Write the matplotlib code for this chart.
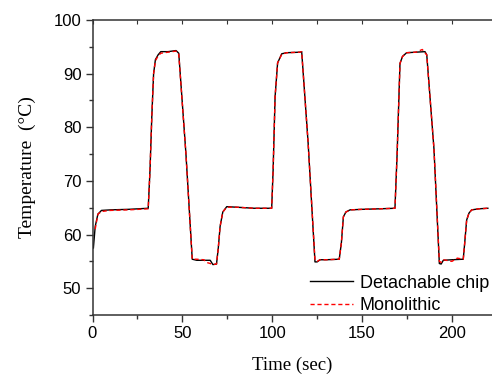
import matplotlib
matplotlib.use("Agg")
import matplotlib.pyplot as plt
from matplotlib.ticker import MultipleLocator

# Detachable chip (black solid)
t_chip = [0.5, 1.5, 3, 5, 10, 20, 31, 32, 33, 34, 35, 36.5, 38, 42, 46.5, 48,
          52, 55.5, 58, 62, 65.5, 67, 69, 70, 71, 72.5, 74.7, 80, 90, 99.7,
          100.5, 101.6, 103, 105.3, 108, 115.5, 116.4, 120, 123.8, 125, 126.6,
          130, 137.3, 138.5, 139.6, 141, 143.3, 150, 160, 168.3, 169.5, 171.1,
          172.5, 174.8, 180, 185, 186, 190, 193, 194, 195.2, 200, 206.3, 207,
          208.2, 209.5, 211, 215, 220]
temp_chip = [57.5, 61.5, 63.8, 64.5, 64.6, 64.7, 64.9, 72, 82, 90, 92.6, 93.5, 94.1, 94.1, 94.3, 93.8,
             75, 55.4, 55.2, 55.2, 55.2, 54.4, 54.5, 57.5, 61.5, 64.2, 65.2, 65.1, 64.9, 64.9,
             72, 85.7, 92, 93.7, 93.9, 94.0, 94.1, 77, 54.9, 54.9, 55.3,
             55.3, 55.4, 58.5, 63.3, 64.2, 64.6, 64.7, 64.8, 64.9, 75, 91.9,
             93.2, 93.9, 94.0, 94.1, 93.5, 76, 54.6, 54.5, 55.2, 55.3, 55.4, 58,
             62.7, 64.0, 64.6, 64.8, 64.9]

# Monolithic (red dashed)
t_mono = [1.5, 3, 5, 10, 20, 31, 32, 33, 34, 35, 36.5, 38, 42, 46.5, 48,
          52, 55.5, 58, 62, 63.5, 65.5, 67, 69, 70, 71, 72.5, 74.7, 80, 90, 99.7,
          100.5, 101.6, 103, 105.3, 108, 115.5, 116.4, 120, 123.8, 125, 126.6,
          130, 137.3, 138.5, 139.6, 141, 143.3, 150, 160, 168.3, 169.5, 171.1,
          172.5, 174.8, 180, 183.5, 184.5, 186, 190, 193, 194, 195.2, 200, 203, 206.3, 207,
          208.2, 209.5, 211, 215, 220]
temp_mono = [61.0, 63.8, 64.3, 64.5, 64.6, 64.8, 72, 82, 90, 92.4, 93.3, 93.8, 94.0, 94.2, 93.6,
             75, 55.4, 55.4, 55.3, 54.8, 54.6, 54.4, 54.5, 57.5, 61.5, 64.2, 65.1, 65.1, 64.9, 64.9,
             72, 85.7, 92, 93.6, 93.9, 94.0, 94.1, 77, 55.2, 55.0, 55.3,
             55.3, 55.4, 58.5, 63.3, 64.2, 64.6, 64.7, 64.8, 64.9, 75, 91.9,
             93.2, 93.9, 94.0, 94.5, 94.1, 93.5, 76, 55.0, 54.8, 55.3, 55.0, 55.6, 55.4, 58,
             62.7, 64.0, 64.6, 64.8, 64.9]

fig = plt.figure(figsize=(4.92, 3.74), dpi=100)
ax = fig.add_axes([92.5 / 492, 59 / 374, (492 - 92.5) / 492, 295 / 374])

ax.plot(t_chip, temp_chip, color="black", lw=1.0, label="Detachable chip")
ax.plot(t_mono, temp_mono, color="red", lw=1.0, ls=(0, (3, 2)), label="Monolithic")

ax.set_xlim(0, 222.3)
ax.set_ylim(45, 100)
ax.xaxis.set_major_locator(MultipleLocator(50))
ax.xaxis.set_minor_locator(MultipleLocator(25))
ax.yaxis.set_major_locator(MultipleLocator(10))
ax.yaxis.set_minor_locator(MultipleLocator(5))

ax.spines["right"].set_visible(False)
for s in ax.spines.values():
    s.set_linewidth(1.1)
    s.set_color("#333333")

ax.tick_params(which="both", direction="out", top=False, right=False,
               labelsize=12, color="#333333", width=1.0)
ax.tick_params(which="major", length=5, pad=3)
ax.tick_params(which="minor", length=3)
for lab in ax.get_xticklabels() + ax.get_yticklabels():
    lab.set_fontfamily("Liberation Sans")

# small ticks on the top spine
ax2 = ax.secondary_xaxis("top")
ax2.xaxis.set_major_locator(MultipleLocator(25))
ax2.tick_params(direction="in", length=3, labeltop=False, color="#333333")
ax2.spines["top"].set_visible(False)

ax.set_xlabel("Time (sec)", fontfamily="Liberation Serif", fontsize=13.5, labelpad=11)
ax.set_ylabel("Temperature  (\u00b0C)", fontfamily="Liberation Serif", fontsize=14, labelpad=13)

ax.legend(loc="lower right", bbox_to_anchor=(489 / 492, 60 / 374),
          bbox_transform=fig.transFigure, frameon=False,
          prop={"family": "Liberation Sans", "size": 13},
          handlelength=2.4, handletextpad=0.35, labelspacing=0.3,
          borderpad=0, borderaxespad=0)

fig.savefig("out.png", dpi=100)
